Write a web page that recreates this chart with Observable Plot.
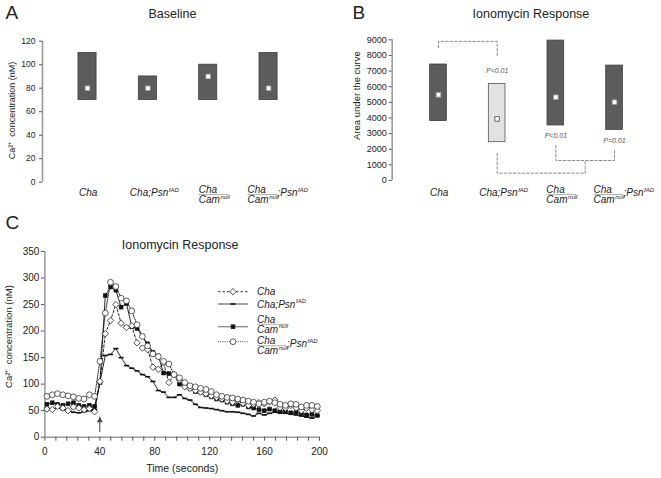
<!DOCTYPE html>
<html><head><meta charset="utf-8">
<script src="https://cdn.jsdelivr.net/npm/d3@7"></script>
<script src="https://cdn.jsdelivr.net/npm/@observablehq/plot@0.6"></script>
<style>
body{margin:0;background:#fff;}
#fig{position:relative;width:661px;height:478px;overflow:hidden;background:#fff;}
#fig > svg{position:absolute;}
</style></head><body><div id="fig"></div>
<script>
// ---------------- data ----------------
const categories = ["Cha", "Cha;Psn", "Cha/Cam", "Cha/Cam;Psn"];
const superscripts = {Psn: "fAD", Cam: "null"};

const baselineLow  = [70, 70, 70, 70];
const baselineHigh = [110, 90, 100, 110];
const baselineMean = [80, 80, 90, 80];
const baselineTicks = [0, 20, 40, 60, 80, 100, 120];

const aucLow  = [3800, 2450, 3520, 3240];
const aucHigh = [7420, 6180, 8950, 7350];
const aucMean = [5480, 3940, 5330, 5010];
const aucTicks = [0, 1000, 2000, 3000, 4000, 5000, 6000, 7000, 8000, 9000];

const bracketIds = ["a", "b", "c"];
const bracketX = [[1, 1, 2, 2], [2, 2, 3.5, 3.5], [3, 3, 4, 4]];
const bracketY = [[8500, 8900, 8900, 7900], [1750, 470, 470, 1280], [2240, 1280, 1280, 1920]];
const pValueX = [2, 3, 4];
const pValueY = [7050, 2850, 2520];
const pValueText = ["P<0.01", "P<0.01", "P=0.01"];

const times = [1.5, 5.4, 9.2, 13.1, 16.9, 20.8, 24.7, 28.5, 32.4, 36.2, 40.1, 44.0, 47.8, 51.7, 55.5, 59.4, 63.3, 67.1, 71.0, 74.8,
  78.7, 82.6, 86.4, 90.3, 94.1, 98.0, 101.9, 105.7, 109.6, 113.4, 117.3, 121.2, 125.0, 128.9, 132.7, 136.6, 140.5, 144.3, 148.2, 152.0,
  155.9, 159.8, 163.6, 167.5, 171.3, 175.2, 179.1, 182.9, 186.8, 190.6, 194.5, 198.4];
const cha = [53, 52, 58, 55, 50, 57, 55, 52, 54, 48, 105, 195, 220, 250, 215, 207, 210, 178, 168, 165,
  132, 128, 140, 103, 118, 108, 95, 92, 88, 85, 82, 78, 75, 72, 68, 66, 70, 64, 60, 62,
  65, 63, 67, 70, 56, 55, 60, 55, 50, 55, 52, 50];
const chaPsn = [55, 52, 56, 52, 50, 47, 46, 48, 50, 52, 104, 154, 156, 167, 150, 135, 130, 125, 118, 114,
  105, 88, 85, 75, 75, 80, 73, 70, 62, 56, 55, 54, 52, 50, 48, 48, 47, 45, 43, 40,
  45, 42, 45, 47, 46, 45, 44, 42, 40, 38, 36, 40];
const chaCam = [62, 65, 62, 60, 63, 65, 60, 58, 60, 58, 103, 267, 283, 277, 245, 252, 208, 205, 190, 176,
  160, 153, 121, 120, 118, 100, 97, 92, 86, 85, 80, 76, 72, 70, 66, 63, 60, 62, 57, 55,
  52, 50, 53, 50, 48, 50, 46, 47, 45, 42, 43, 41];
const chaCamPsn = [77, 80, 82, 80, 78, 76, 73, 72, 80, 77, 143, 234, 292, 284, 262, 257, 238, 212, 190, 172,
  157, 152, 143, 138, 118, 112, 103, 97, 95, 92, 90, 86, 80, 77, 75, 74, 72, 70, 68, 66,
  63, 66, 68, 65, 62, 60, 63, 62, 57, 60, 60, 58];
const timeTicks = [0, 40, 80, 120, 160, 200];
const timeMinorTicks = [0, 8, 16, 24, 32, 40, 48, 56, 64, 72, 80, 88, 96, 104, 112, 120, 128, 136, 144, 152, 160, 168, 176, 184, 192, 200];
const concTicks = [0, 50, 100, 150, 200, 250, 300, 350];
const injectionTime = 40, arrowFrom = 9, arrowTo = 38;

// ---------------- styles ----------------
const FONT = '"Liberation Sans", Arial, Helvetica, sans-serif';
const INK = "#222";
const DARK = "#5c5c5c";
const LIGHT = "#e2e2e2";
const tickSymbol = {draw(ctx, size) { const w = Math.sqrt(size) * 0.9, h = 0.8;
  ctx.moveTo(-w, -h); ctx.lineTo(w, -h); ctx.lineTo(w, h); ctx.lineTo(-w, h); ctx.closePath(); }};
const seriesStyle = {
  "Cha":         {values: cha,       dash: "2.5,2", symbol: d3.symbolDiamond2, r: 2.9, fill: "white", stroke: "#222", lStroke: "#222", lW: 0.9},
  "Cha;Psn":     {values: chaPsn,    dash: null,    symbol: tickSymbol,        r: 1.6, fill: "#111",  stroke: "none", lStroke: "#999", lW: 1.8},
  "Cha/Cam":     {values: chaCam,    dash: null,    symbol: d3.symbolSquare,   r: 2.1, fill: "#111",  stroke: "#111", lStroke: "#888", lW: 1.3},
  "Cha/Cam;Psn": {values: chaCamPsn, dash: "1,1.2", symbol: d3.symbolCircle,   r: 2.9, fill: "white", stroke: "#333", lStroke: "#333", lW: 0.9}
};
const drawOrder = ["Cha;Psn", "Cha/Cam", "Cha", "Cha/Cam;Psn"];

const fig = document.getElementById("fig");
function place(svg, left, top) { svg.style.left = left + "px"; svg.style.top = top + "px"; fig.appendChild(svg); return svg; }

// rich italic genotype label; origin = (left, fraction-bar line)
function richLabel(g, key, fs) {
  const [main, suffix] = key.split(";");
  const frac = main.split("/");
  const base = s => s.attr("font-size", fs).attr("font-style", "italic").attr("fill", INK).attr("text-anchor", "start");
  const addWord = (t, w) => {
    t.append("tspan").text(w);
    if (superscripts[w]) t.append("tspan").attr("font-size", fs * 0.6).attr("dx", 0.6).attr("dy", -fs * 0.42).text(superscripts[w]);
  };
  if (frac.length === 1) {
    const t = base(g.append("text")).attr("y", fs * 0.17);
    addWord(t, frac[0]);
    if (suffix) { t.append("tspan").text(";"); addWord(t, suffix); }
    return;
  }
  base(g.append("text")).attr("y", -fs * 0.15).text(frac[0]);
  const den = base(g.append("text")).attr("y", fs * 0.86);
  addWord(den, frac[1]);
  const w = den.node().getComputedTextLength();
  g.append("line").attr("x1", 0).attr("x2", w - 1).attr("y1", 0.3).attr("y2", 0.3).attr("stroke", "#888").attr("stroke-width", 0.7);
  if (suffix) {
    const t = base(g.append("text")).attr("x", w - 0.5).attr("y", fs * 0.17);
    t.append("tspan").text(";"); addWord(t, suffix);
  }
}
const labelShift = [-8, -17.5, -9, -20.5];
function categoryLabels(svg, offset) {
  const x = svg.scale("x"), y = svg.scale("y");
  const layer = d3.select(svg).append("g").attr("font-family", FONT).attr("text-anchor", "start");
  categories.forEach((key, i) => {
    const g = layer.append("g").attr("transform", `translate(${x.apply(i + 1) + labelShift[i]},${y.apply(0) + offset})`);
    richLabel(g, key, 10);
  });
}

// ---------------- panel A ----------------
const rowsA = categories.map((key, i) => ({key, i: i + 1, lo: baselineLow[i], hi: baselineHigh[i], mean: baselineMean[i]}));
const xDomA = [0.254, 4.75];
const chartA = Plot.plot({
  width: 330, height: 205, marginLeft: 42, marginRight: 16.7, marginTop: 40.7, marginBottom: 23.3,
  style: {fontFamily: FONT, fontSize: "8.5px", color: INK, background: "transparent"},
  x: {domain: xDomA, axis: null},
  y: {domain: [0, 120], label: null},
  marks: [
    Plot.ruleX([xDomA[0]], {stroke: "#9a9a9a", strokeWidth: 1.6}),
    Plot.axisY({ticks: baselineTicks, tickSize: 3, tickPadding: 4, stroke: "#555", label: null, tickFormat: "d"}),
    Plot.rectY(rowsA, {x1: d => d.i - 0.15, x2: d => d.i + 0.15, y1: "lo", y2: "hi", fill: DARK, stroke: "#3d3d3d", strokeWidth: 0.8}),
    Plot.dot(rowsA, {x: "i", y: "mean", symbol: d3.symbolSquare, r: 2.6, fill: "white", stroke: "#999", strokeWidth: 0.7}),
    Plot.text(["Baseline"], {text: d => d, frameAnchor: "top", dx: -5.7, dy: -27.2, fontSize: 12.5, textAnchor: "middle", lineAnchor: "middle"}),
    Plot.text(["A"], {text: d => d, frameAnchor: "top-left", dx: 5 - 42, dy: 12.5 - 40.7, textAnchor: "start", lineAnchor: "middle", fontSize: 19}),
    Plot.text(["Ca²⁺  concentration (nM)"], {text: d => d, frameAnchor: "left", rotate: -90, dx: -30.5, dy: -1.2, fontSize: 9, textAnchor: "middle", lineAnchor: "middle"})
  ]
});
place(chartA, 0, 0);
categoryLabels(chartA, 12.6);

// ---------------- panel B ----------------
const rowsB = categories.map((key, i) => ({key, i: i + 1, lo: aucLow[i], hi: aucHigh[i], mean: aucMean[i]}));
const bracketRows = bracketIds.flatMap((id, b) => bracketX[b].map((x, j) => ({id, x, y: bracketY[b][j]})));
const pRows = pValueText.map((t, i) => ({t, x: pValueX[i], y: pValueY[i]}));
const xDomB = [0.211, 4.78];
const chartB = Plot.plot({
  width: 331, height: 205, marginLeft: 61.7, marginRight: 1.2, marginTop: 39.3, marginBottom: 25,
  style: {fontFamily: FONT, fontSize: "9px", color: INK, background: "transparent"},
  x: {domain: xDomB, axis: null},
  y: {domain: [0, 9000], label: null},
  marks: [
    Plot.ruleX([xDomB[0]], {stroke: "#9a9a9a", strokeWidth: 1.6}),
    Plot.axisY({ticks: aucTicks, tickSize: 3, tickPadding: 2.5, stroke: "#555", label: null, tickFormat: "d"}),
    Plot.line(bracketRows, {x: "x", y: "y", z: "id", stroke: "#8a8a8a", strokeWidth: 1, strokeDasharray: "2.5,2"}),
    Plot.rectY(rowsB, {x1: d => d.i - 0.142, x2: d => d.i + 0.142, y1: "lo", y2: "hi",
      fill: d => d.key === "Cha;Psn" ? LIGHT : DARK, stroke: d => d.key === "Cha;Psn" ? "#555" : "#3d3d3d", strokeWidth: 0.8}),
    Plot.dot(rowsB, {x: "i", y: "mean", symbol: d3.symbolSquare, r: 2.6, fill: "white",
      stroke: d => d.key === "Cha;Psn" ? "#444" : "#999", strokeWidth: 0.8}),
    Plot.text(pRows, {x: "x", y: "y", text: "t", fontStyle: "italic", fontSize: 7, fill: "#555"}),
    Plot.text(["Ionomycin Response"], {text: d => d, frameAnchor: "top", dx: 4.7, dy: -26, fontSize: 12.5, textAnchor: "middle", lineAnchor: "middle"}),
    Plot.text(["B"], {text: d => d, frameAnchor: "top-left", dx: 22 - 61.7, dy: 12 - 39.3, textAnchor: "start", lineAnchor: "middle", fontSize: 19}),
    Plot.text(["Area under the curve"], {text: d => d, frameAnchor: "left", rotate: -90, dx: -35.7, dy: -14.6, fontSize: 9.5, textAnchor: "middle", lineAnchor: "middle"})
  ]
});
place(chartB, 330, 0);
categoryLabels(chartB, 14.3);

// ---------------- panel C ----------------
const seriesRows = drawOrder.flatMap(key => seriesStyle[key].values.map((v, k) => ({key, t: times[k], v})));
const lineMarks = drawOrder.map(key => Plot.line(seriesRows.filter(d => d.key === key),
  {x: "t", y: "v", stroke: "#111", strokeWidth: 0.9, strokeDasharray: seriesStyle[key].dash}));
const dotMarks = drawOrder.map(key => { const s = seriesStyle[key];
  return Plot.dot(seriesRows.filter(d => d.key === key),
    {x: "t", y: "v", symbol: s.symbol, r: s.r, fill: s.fill, stroke: s.stroke, strokeWidth: 0.8}); });
const arrowRows = [{t: injectionTime, from: arrowFrom, to: arrowTo}];
const chartC = Plot.plot({
  width: 400, height: 273, marginLeft: 44.4, marginRight: 81, marginTop: 46, marginBottom: 41.3,
  style: {fontFamily: FONT, fontSize: "10px", color: INK, background: "transparent"},
  x: {domain: [0, 200], label: null},
  y: {domain: [0, 350], label: null},
  marks: [
    Plot.ruleX([0], {stroke: "#9a9a9a", strokeWidth: 1.5}),
    Plot.ruleY([0], {stroke: "#9a9a9a", strokeWidth: 1.5}),
    Plot.axisY({ticks: concTicks, tickSize: 3.5, tickPadding: 2, stroke: "#555", label: null}),
    Plot.axisX({ticks: timeMinorTicks, tickSize: 4, tickFormat: () => "", stroke: "#555", label: null}),
    Plot.axisX({ticks: timeTicks, tickSize: 0, tickPadding: 11, label: null}),
    ...lineMarks,
    ...dotMarks,
    Plot.ruleX(arrowRows, {x: "t", y1: "from", y2: "to", stroke: "#444", strokeWidth: 1}),
    Plot.dot(arrowRows, {x: "t", y: "to", dy: 3.4, symbol: d3.symbolTriangle, r: 2.2, fill: "#444"}),
    Plot.text(["Ionomycin Response"], {text: d => d, frameAnchor: "top", dx: -2, dy: -7, fontSize: 12.5, textAnchor: "middle", lineAnchor: "middle"}),
    Plot.text(["Time (seconds)"], {text: d => d, frameAnchor: "bottom", dy: 31.3, fontSize: 10.5, textAnchor: "middle", lineAnchor: "middle"}),
    Plot.text(["C"], {text: d => d, frameAnchor: "top-left", dx: 5 - 44.4, dy: 17 - 46, textAnchor: "start", lineAnchor: "middle", fontSize: 19}),
    Plot.text(["Ca²⁺  concentration (nM)"], {text: d => d, frameAnchor: "left", rotate: -90, dx: -36, dy: -7.8, fontSize: 9.5, textAnchor: "middle", lineAnchor: "middle"})
  ]
});
place(chartC, 0, 205);

// legend for panel C
(function legend() {
  const L = d3.select(chartC).append("g").attr("font-family", FONT).attr("text-anchor", "start");
  const rows = [
    {key: "Cha", sample: 86.7, text: 88.6},
    {key: "Cha;Psn", sample: 99, text: 100.9},
    {key: "Cha/Cam", sample: 121.7, text: 119},
    {key: "Cha/Cam;Psn", sample: 136.7, text: 140.5}
  ];
  rows.forEach(r => {
    const s = seriesStyle[r.key];
    L.append("line").attr("x1", 218).attr("x2", 248).attr("y1", r.sample).attr("y2", r.sample)
      .attr("stroke", s.lStroke).attr("stroke-width", s.lW).attr("stroke-dasharray", s.dash);
    L.append("path").attr("transform", `translate(233,${r.sample})`)
      .attr("d", d3.symbol(s.symbol, Math.PI * s.r * s.r)())
      .attr("fill", s.fill).attr("stroke", s.stroke).attr("stroke-width", 0.8);
    richLabel(L.append("g").attr("transform", `translate(257,${r.text})`), r.key, 10);
  });
})();
</script>
</body></html>
